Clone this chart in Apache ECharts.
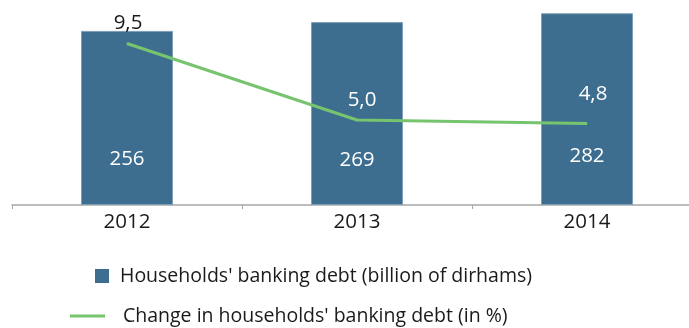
<!DOCTYPE html>
<html>
<head>
<meta charset="utf-8">
<script src="https://cdn.jsdelivr.net/npm/echarts@6/dist/echarts.min.js"></script>
<style>
html,body{margin:0;padding:0;background:#fff;}
#c{width:689px;height:328px;}
</style>
</head>
<body>
<div id="c"></div>
<script>
const categories = ['2012', '2013', '2014'];
const debtValues = [256, 269, 282];
const changeValues = [9.5, 5.0, 4.8];
const debtName = "Households' banking debt (billion of dirhams)";
const changeName = "Change in households' banking debt (in %)";

const fmt = v => String(v.toFixed(1)).replace('.', ',');
const font = '"Open Sans", sans-serif';
const lineLabelStyles = [
  {color: '#1a1a1a', offset: [1, 0]},
  {color: '#ffffff', offset: [5, 0]},
  {color: '#ffffff', offset: [6, -9]}
];
const barLabelDistances = [35, 34, 38];

const chart = echarts.init(document.getElementById('c'), null, {renderer: 'canvas'});
chart.setOption({
  animation: false,
  textStyle: {fontFamily: font},
  grid: {left: 12, top: 1, width: 690, height: 204, containLabel: false, outerBoundsMode: 'none'},
  xAxis: {
    type: 'category',
    data: categories,
    boundaryGap: true,
    axisLine: {lineStyle: {color: '#a6a6a6', width: 1.5}},
    axisTick: {show: true, length: 4, lineStyle: {color: '#a6a6a6'}},
    axisLabel: {color: '#1a1a1a', fontSize: 20.5, fontFamily: font, margin: 7}
  },
  yAxis: [
    {type: 'value', min: 0, max: 300, show: false, splitLine: {show: false}},
    {type: 'value', min: 0, max: 12, show: false, splitLine: {show: false}}
  ],
  legend: [
    {
      left: 95, top: 266, padding: 0, itemWidth: 14, itemHeight: 14, icon: 'rect',
      data: [{name: debtName, itemStyle: {borderWidth: 0}}],
      textStyle: {fontSize: 19.5, color: '#1a1a1a', fontFamily: font, padding: [0, 0, 0, 6]}
    },
    {
      left: 70, top: 306, padding: 0, itemWidth: 35, itemHeight: 3, icon: 'rect',
      data: [{name: changeName, itemStyle: {color: '#77c46e', opacity: 1}}],
      textStyle: {fontSize: 19.5, color: '#1a1a1a', fontFamily: font, padding: [0, 0, 0, 13]}
    }
  ],
  series: [
    {
      name: debtName,
      type: 'bar',
      data: debtValues.map((v, i) => ({value: v, label: {distance: barLabelDistances[i]}})),
      barWidth: '40%',
      yAxisIndex: 0,
      itemStyle: {color: '#3e6e8f', borderColor: '#7f9fb8', borderWidth: 1},
      label: {
        show: true, position: 'insideBottom', distance: 35,
        color: '#ffffff', fontSize: 20.5, fontFamily: font
      }
    },
    {
      name: changeName,
      type: 'line',
      data: changeValues.map((v, i) => ({value: v, label: lineLabelStyles[i]})),
      yAxisIndex: 1,
      symbol: 'circle',
      symbolSize: 1,
      showSymbol: true,
      lineStyle: {color: '#77c46e', width: 3},
      itemStyle: {color: '#77c46e'},
      label: {
        show: true, position: 'top', distance: 9,
        fontSize: 20.5, fontFamily: font,
        formatter: p => fmt(p.value)
      }
    }
  ]
});
</script>
</body>
</html>
